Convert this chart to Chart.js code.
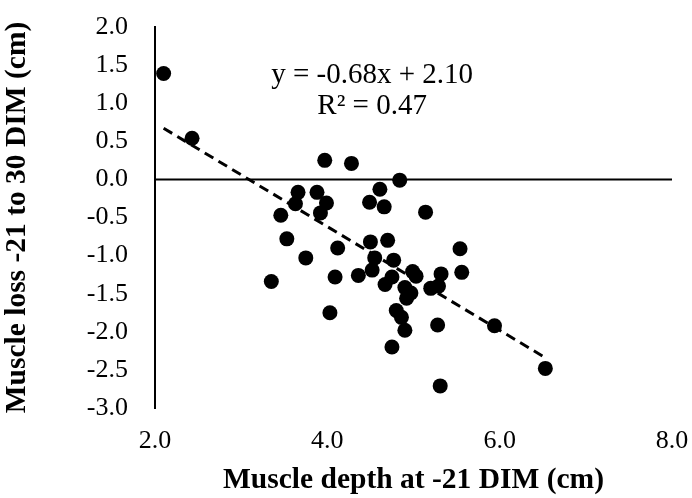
<!DOCTYPE html>
<html>
<head>
<meta charset="utf-8">
<script src="https://cdn.jsdelivr.net/npm/chart.js@4.4.1/dist/chart.umd.min.js"></script>
<style>
  html, body { margin: 0; padding: 0; background: #fff; }
  #wrap { width: 692px; height: 498px; }
</style>
</head>
<body>
<div id="wrap"><canvas id="chart" width="692" height="498"></canvas></div>
<script>
// muscle depth at -21 DIM (cm)
const depth = [2.10, 2.43, 3.97, 4.28, 4.84, 4.61, 3.66, 3.88, 3.63, 3.99,
               3.46, 3.92, 4.49, 4.66, 5.14, 3.53, 4.12, 4.50, 4.70, 5.54,
               3.75, 4.55, 4.77, 4.52, 4.99, 5.32, 5.56, 3.35, 4.09, 4.36,
               4.75, 4.67, 4.90, 4.97, 4.92, 5.20, 5.29, 4.80, 4.86, 4.90,
               4.75, 4.03, 5.28, 5.94, 6.53, 5.31, 5.03];
// muscle loss -21 to 30 DIM (cm)
const loss = [1.39, 0.54, 0.25, 0.21, -0.01, -0.13, -0.17, -0.17, -0.32, -0.31,
              -0.47, -0.44, -0.30, -0.36, -0.43, -0.78, -0.90, -0.82, -0.80, -0.91,
              -1.03, -1.03, -1.06, -1.19, -1.21, -1.24, -1.22, -1.34, -1.28, -1.26,
              -1.28, -1.38, -1.42, -1.49, -1.56, -1.43, -1.40, -1.72, -1.81, -1.98,
              -2.20, -1.75, -1.91, -1.92, -2.48, -2.71, -1.27];
const slope = -0.68, intercept = 2.10;
const eqLabels = ['y = -0.68x + 2.10', 'R\u00b2 = 0.47'];
const xTicks = [2, 4, 6, 8];
const yRange = [-3, 2];

const serif = "'Liberation Serif', 'Times New Roman', serif";
const points = depth.map((x, i) => ({ x, y: loss[i] }));
const xMin = Math.min(...depth), xMax = Math.max(...depth);
const trend = [xMin, xMax].map(x => ({ x, y: slope * x + intercept }));
const zeroLine = [{ x: xTicks[0], y: 0 }, { x: xTicks[xTicks.length - 1], y: 0 }];

const eqPlugin = {
    id: 'eqText',
    afterDatasetsDraw(chart){
        const { ctx, scales: { x, y } } = chart;
        ctx.save();
        ctx.fillStyle = '#000';
        ctx.font = `29px ${serif}`;
        ctx.textAlign = 'center';
        ctx.textBaseline = 'middle';
        ctx.fillText(eqLabels[0], x.getPixelForValue(4.52), y.getPixelForValue(1.37));
        ctx.fillText(eqLabels[1], x.getPixelForValue(4.52), y.getPixelForValue(0.96));
        ctx.restore();
    }
};

new Chart(document.getElementById('chart'), {
    type: 'scatter',
    data: {
        datasets: [
            { data: zeroLine, type: 'line', borderColor: '#000', borderWidth: 2, pointRadius: 0, order: 3 },
            { data: trend, type: 'line', borderColor: '#000', borderWidth: 3, borderDash: [10, 6], pointRadius: 0, order: 2 },
            { data: points, backgroundColor: '#000', borderWidth: 0, pointRadius: 7.5, pointHoverRadius: 7.5, order: 1 }
        ]
    },
    options: {
        responsive: false,
        animation: false,
        layout: { padding: { top: 27, right: 20, left: 0, bottom: 0 } },
        plugins: { legend: { display: false }, tooltip: { enabled: false } },
        scales: {
            x: {
                type: 'linear', min: xTicks[0], max: xTicks[xTicks.length - 1],
                afterBuildTicks: s => { s.ticks = xTicks.map(v => ({ value: v })); },
                afterFit: s => { s.height = 90; s.paddingLeft = 0; s.paddingRight = 0; },
                grid: { display: false, drawTicks: false },
                border: { display: false },
                ticks: { color: '#000', font: { family: serif, size: 26 }, padding: 18, maxRotation: 0, callback: v => v.toFixed(1) },
                title: { display: true, text: 'Muscle depth at -21 DIM (cm)', color: '#000', font: { family: serif, size: 29.5, weight: 'bold' }, padding: { top: 0, bottom: 0 } }
            },
            y: {
                type: 'linear', min: yRange[0], max: yRange[1],
                afterFit: s => { s.width = 155; s.paddingTop = 0; s.paddingBottom = 0; },
                grid: { display: false, drawTicks: false },
                border: { display: true, color: '#000', width: 2 },
                ticks: { color: '#000', font: { family: serif, size: 26 }, padding: 27, stepSize: 0.5, callback: v => v.toFixed(1) },
                title: { display: true, text: 'Muscle loss -21 to 30 DIM (cm)', color: '#000', font: { family: serif, size: 29.5, weight: 'bold' }, padding: { top: 0, bottom: 0 } }
            }
        }
    },
    plugins: [eqPlugin]
});
</script>
</body>
</html>
